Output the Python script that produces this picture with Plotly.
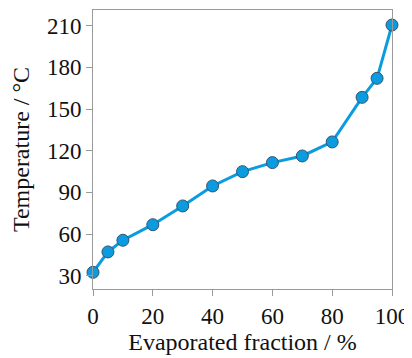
import plotly.graph_objects as go

fraction = [0, 5, 10, 20, 30, 40, 50, 60, 70, 80, 90, 95, 100]
temperature = [32.4, 47.1, 55.5, 66.7, 80.2, 94.6, 104.9, 111.4, 116.2, 126.3, 158.4, 172.1, 210.5]
x_ticks = [0, 20, 40, 60, 80, 100]
y_ticks = [30, 60, 90, 120, 150, 180, 210]

fig = go.Figure(go.Scatter(
    x=fraction, y=temperature, mode="lines+markers",
    line=dict(color="#0A9BE0", width=3),
    marker=dict(size=12, color="#0A9BE0", line=dict(color="#35556A", width=1)),
    cliponaxis=False,
))

axis_common = dict(
    showline=True, linecolor="#9A9A9A", linewidth=1, mirror=True,
    ticks="outside", ticklen=6, tickcolor="#9A9A9A", tickwidth=1,
    showgrid=False, zeroline=False, automargin=False,
    tickfont=dict(family="Liberation Serif", size=23, color="#111"),
)

title_font = dict(family="Liberation Serif", size=24, color="#111")

fig.update_layout(
    width=412, height=358,
    margin=dict(l=85, r=28, t=2, b=77),
    plot_bgcolor="white", paper_bgcolor="white",
    showlegend=False,
    font=dict(family="Liberation Serif", size=21, color="#111"),
    xaxis=dict(range=[0, 100], tickvals=x_ticks,
               title=dict(text="Evaporated fraction / %", standoff=5, font=title_font),
               **axis_common),
    yaxis=dict(range=[20.4, 221.3], tickvals=y_ticks,
               title=dict(text="Temperature / °C", standoff=10, font=title_font),
               **axis_common),
)

fig.write_html("out.html")
